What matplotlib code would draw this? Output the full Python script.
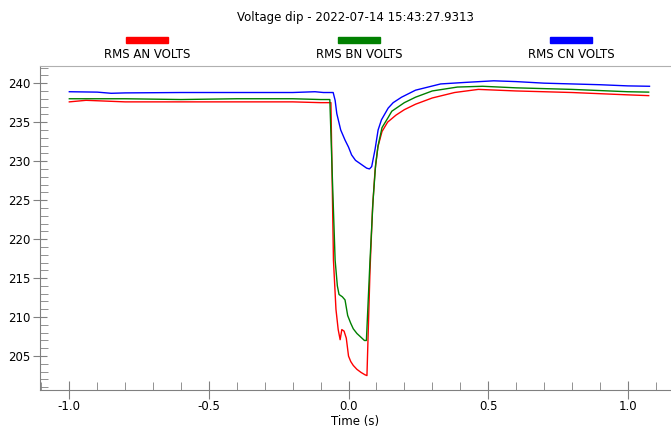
import matplotlib.pyplot as plt
from matplotlib.patches import Rectangle
from matplotlib.ticker import MultipleLocator

title = "Voltage dip - 2022-07-14 15:43:27.9313"
names = ["RMS AN VOLTS", "RMS BN VOLTS", "RMS CN VOLTS"]
colors = ["#ff0000", "#008000", "#0000ff"]

# phase A
t_an = [-1.0, -0.94, -0.8, -0.6, -0.4, -0.2, -0.1, -0.063, -0.054, -0.045,
        -0.037, -0.03, -0.024, -0.016, -0.008, 0.0, 0.008, 0.017, 0.03,
        0.045, 0.059, 0.066, 0.077, 0.086, 0.095, 0.105, 0.12, 0.14, 0.17,
        0.2, 0.24, 0.3, 0.38, 0.465, 0.6, 0.8, 1.0, 1.075]
v_an = [237.6, 237.8, 237.6, 237.6, 237.6, 237.6, 237.5, 237.5, 217.3, 211.0,
        208.4, 207.1, 208.4, 208.2, 207.3, 205.0, 204.3, 203.8, 203.3,
        202.9, 202.6, 202.5, 216.0, 224.0, 228.8, 231.8, 233.8, 235.0, 235.9,
        236.6, 237.3, 238.1, 238.8, 239.2, 239.0, 238.8, 238.5, 238.4]

# phase B
t_bn = [-1.0, -0.8, -0.6, -0.4, -0.2, -0.1, -0.067, -0.058, -0.048, -0.04,
        -0.034, -0.022, -0.0125, -0.003, 0.008, 0.017, 0.03, 0.045, 0.057,
        0.064, 0.077, 0.088, 0.097, 0.106, 0.12, 0.142, 0.155, 0.2, 0.24,
        0.3, 0.39, 0.48, 0.6, 0.8, 1.0, 1.075]
v_bn = [238.0, 238.0, 237.9, 238.0, 238.0, 237.9, 237.9, 228.0, 217.3, 214.0,
        212.9, 212.6, 212.2, 210.2, 209.2, 208.5, 207.9, 207.4, 207.0,
        207.0, 217.3, 225.0, 229.5, 232.0, 234.3, 235.6, 236.4, 237.5, 238.2,
        239.0, 239.5, 239.6, 239.4, 239.2, 238.9, 238.85]

# phase C
t_cn = [-1.0, -0.9, -0.85, -0.8, -0.6, -0.4, -0.2, -0.12, -0.09, -0.055,
        -0.048, -0.042, -0.028, -0.0125, 0.0, 0.011, 0.025, 0.045, 0.065,
        0.075, 0.083, 0.095, 0.106, 0.118, 0.142, 0.16, 0.19, 0.24, 0.33,
        0.42, 0.52, 0.6, 0.7, 0.8, 0.9, 1.0, 1.078]
v_cn = [238.9, 238.85, 238.7, 238.75, 238.8, 238.8, 238.8, 238.9, 238.8, 238.8,
        237.8, 236.1, 234.0, 232.7, 231.8, 230.8, 230.1, 229.6, 229.1,
        229.0, 229.3, 231.5, 234.0, 235.3, 236.8, 237.5, 238.2, 239.1, 239.9,
        240.1, 240.3, 240.2, 240.0, 239.9, 239.8, 239.65, 239.6]


def main():
    '''draw the voltage dip chart'''
    plt.rcParams['font.family'] = 'DejaVu Sans'
    fig = plt.figure(figsize=(6.71, 4.30), dpi=100)
    ax = fig.add_axes([40 / 671, 40 / 430, 631 / 671, 324 / 430])

    series = [(t_an, v_an), (t_bn, v_bn), (t_cn, v_cn)]
    for (t, v), c in zip(series, colors):
        ax.plot(t, v, color=c, lw=1.0)

    ax.set_xlim(-1.105, 1.155)
    ax.set_ylim(200.65, 242.2)
    ax.xaxis.set_major_locator(MultipleLocator(0.5))
    ax.xaxis.set_minor_locator(MultipleLocator(0.1))
    ax.yaxis.set_major_locator(MultipleLocator(5))
    ax.yaxis.set_minor_locator(MultipleLocator(1))
    ax.xaxis.set_major_formatter(lambda x, p: f"{x:.1f}")

    ax.spines['right'].set_visible(False)
    ax.spines['left'].set_color('#808080')
    ax.spines['bottom'].set_color('#808080')
    ax.spines['top'].set_color('#b0b0b0')
    ax.tick_params(axis='x', which='major', direction='inout', length=13,
                   color='#808080', labelsize=8.5, pad=1)
    ax.tick_params(axis='y', which='major', direction='inout', length=10,
                   color='#808080', labelsize=8.5, pad=2)
    ax.tick_params(which='minor', direction='in', length=5.5, color='#808080')
    ax.set_xlabel("Time (s)", fontsize=8.5, labelpad=1)

    fig.text(355 / 671, 1 - 18 / 430, title, ha='center', va='center',
             fontsize=8.5)
    for i, (name, c) in enumerate(zip(names, colors)):
        cx = 147 + 212 * i
        fig.patches.append(Rectangle(((cx - 21) / 671, 1 - 43 / 430),
                                     42 / 671, 6 / 430, color=c,
                                     transform=fig.transFigure))
        fig.text(cx / 671, 1 - 55 / 430, name, ha='center', va='center',
                 fontsize=8.5)

    fig.savefig('out.png', dpi=100)


if __name__ == '__main__':
    main()
